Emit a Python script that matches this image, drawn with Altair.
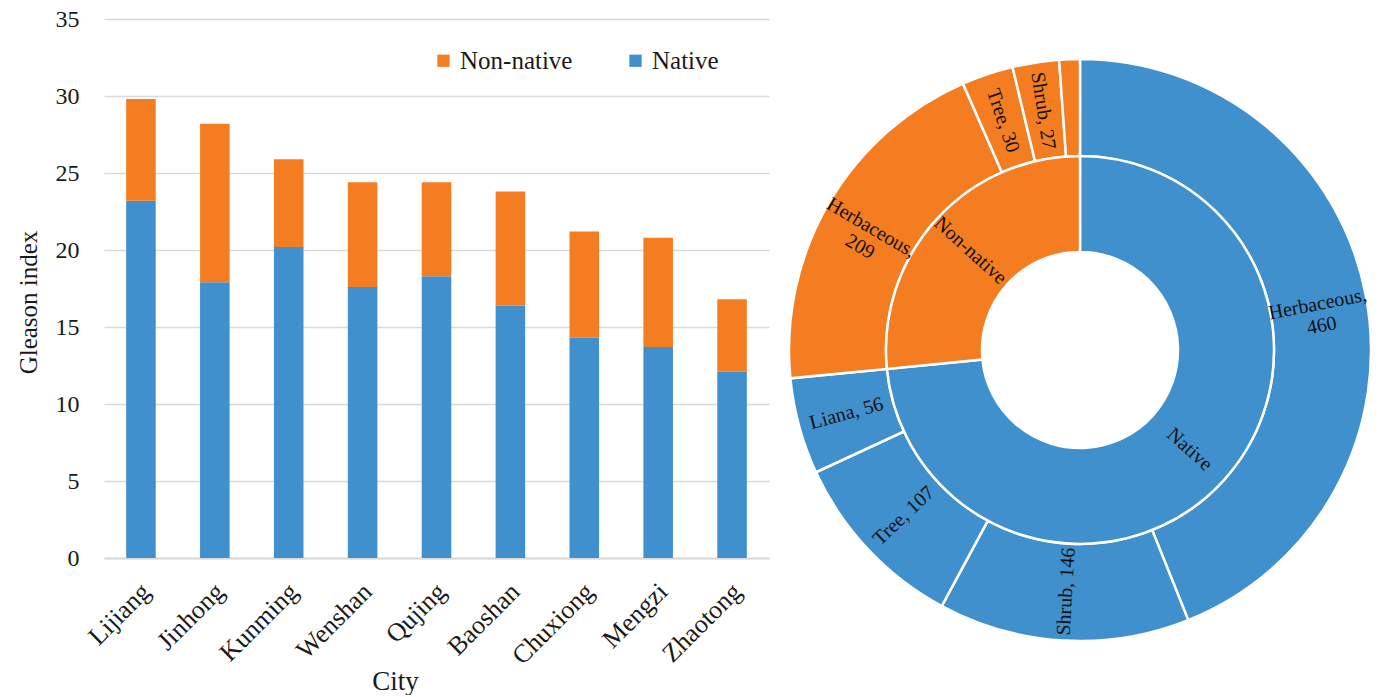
import altair as alt
import pandas as pd

# ---------------- data ----------------
cities = ["Lijiang", "Jinhong", "Kunming", "Wenshan", "Qujing",
          "Baoshan", "Chuxiong", "Mengzi", "Zhaotong"]
native_vals = [23.2, 17.9, 20.2, 17.6, 18.3, 16.4, 14.3, 13.7, 12.1]
non_native_vals = [6.6, 10.3, 5.7, 6.8, 6.1, 7.4, 6.9, 7.1, 4.7]

sb_groups = ["Native", "Native", "Native", "Native",
             "Non-native", "Non-native", "Non-native", "Non-native"]
sb_forms = ["Herbaceous", "Shrub", "Tree", "Liana",
            "Herbaceous", "Tree", "Shrub", "Liana"]
sb_counts = [460, 146, 107, 56, 209, 30, 27, 12]
sb_labels = ["Herbaceous,\n460", "Shrub, 146", "Tree, 107", "Liana, 56",
             "Herbaceous,\n209", "Tree, 30", "Shrub, 27", ""]

BLUE = "#4190CE"
ORANGE = "#F47D22"
FONT = "Liberation Serif"

color_scale = alt.Scale(domain=["Non-native", "Native"], range=[ORANGE, BLUE])

# ---------------- bar chart ----------------
bar_df = pd.DataFrame({
    "City": cities * 2,
    "Origin": ["Native"] * len(cities) + ["Non-native"] * len(cities),
    "Value": native_vals + non_native_vals,
    "order": [0] * len(cities) + [1] * len(cities),
})

bars = alt.Chart(bar_df).mark_bar().encode(
    x=alt.X("City:N", sort=cities,
            scale=alt.Scale(paddingInner=0.6, paddingOuter=0.3),
            axis=alt.Axis(title="City", labelAngle=-45, labelFontSize=26,
                          labelFont=FONT, labelColor="#1a1a1a", labelPadding=20,
                          labelOffset=-4,
                          ticks=False, domainColor="#D9D9D9", domainWidth=2,
                          titleFont=FONT, titleFontSize=27, titleFontWeight="normal",
                          titleColor="#1a1a1a", titlePadding=0, titleX=291)),
    y=alt.Y("Value:Q", stack="zero",
            scale=alt.Scale(domain=[0, 35], nice=False),
            axis=alt.Axis(title="Gleason index", values=[0, 5, 10, 15, 20, 25, 30, 35],
                          labelFontSize=24, labelFont=FONT, labelColor="#1a1a1a",
                          labelPadding=25, ticks=False, domain=False,
                          gridColor="#D9D9D9", gridWidth=1.5,
                          titleFont=FONT, titleFontSize=25, titleFontWeight="normal",
                          titleColor="#1a1a1a", titlePadding=14, titleY=283)),
    color=alt.Color("Origin:N", scale=color_scale,
                    legend=alt.Legend(title=None, orient="none", legendX=327, legendY=29,
                                      direction="horizontal", symbolType="square",
                                      symbolSize=150, symbolStrokeWidth=0,
                                      labelFont=FONT, labelFontSize=25,
                                      labelColor="#1a1a1a", columnPadding=50)),
    order=alt.Order("order:Q"),
).properties(width=665, height=539)

# ---------------- sunburst ----------------
sb_df = pd.DataFrame({
    "group": sb_groups,
    "form": sb_forms,
    "count": sb_counts,
    "label": sb_labels,
    "order": list(range(len(sb_counts))),
})

base = alt.Chart(sb_df)

outer = base.mark_arc(radius=291, radius2=194, stroke="white", strokeWidth=2.5).encode(
    theta=alt.Theta("count:Q", stack=True),
    order=alt.Order("order:Q"),
    color=alt.Color("group:N", scale=color_scale, legend=None),
)

inner_base = base.transform_aggregate(
    total="sum(count)", groupby=["group"]
).transform_calculate(
    gorder="datum.group == 'Native' ? 0 : 1"
)

inner = inner_base.mark_arc(radius=194, radius2=98, stroke="white", strokeWidth=2.5).encode(
    theta=alt.Theta("total:Q", stack=True),
    order=alt.Order("gorder:Q"),
    color=alt.Color("group:N", scale=color_scale, legend=None),
)

outer_text = base.transform_joinaggregate(
    tot="sum(count)"
).transform_window(
    cum="sum(count)", sort=[alt.SortField("order")], frame=[None, 0]
).transform_calculate(
    mid="(datum.cum - datum.count / 2) / datum.tot * 360"
).transform_calculate(
    rot="(datum.mid - 90 > 90 ? datum.mid - 270 : datum.mid - 90) + 360"
).mark_text(radius=242, font=FONT, fontSize=20, lineBreak="\n",
            align="center", baseline="middle", color="#111111").encode(
    theta=alt.Theta("count:Q", stack=True),
    order=alt.Order("order:Q"),
    angle=alt.Angle("rot:Q", scale=None),
    text=alt.Text("label:N"),
)

inner_text = inner_base.transform_joinaggregate(
    tot="sum(total)"
).transform_window(
    cum="sum(total)", sort=[alt.SortField("gorder")], frame=[None, 0]
).transform_calculate(
    mid="(datum.cum - datum.total / 2) / datum.tot * 360"
).transform_calculate(
    rot="(datum.mid - 90 > 90 ? datum.mid - 270 : datum.mid - 90) + 360"
).mark_text(radius=148, font=FONT, fontSize=20, align="center",
            baseline="middle", color="#111111").encode(
    theta=alt.Theta("total:Q", stack=True),
    order=alt.Order("gorder:Q"),
    angle=alt.Angle("rot:Q", scale=None),
    text=alt.Text("group:N"),
)

sunburst = alt.layer(outer, inner, outer_text, inner_text).properties(width=590, height=662)

chart = alt.hconcat(bars, sunburst, spacing=15).properties(
    padding={"left": 16, "top": 7, "right": 0, "bottom": 0}
).configure(font=FONT).configure_view(strokeWidth=0)

chart.save("out.html", embed_options={"renderer": "svg", "actions": False})
